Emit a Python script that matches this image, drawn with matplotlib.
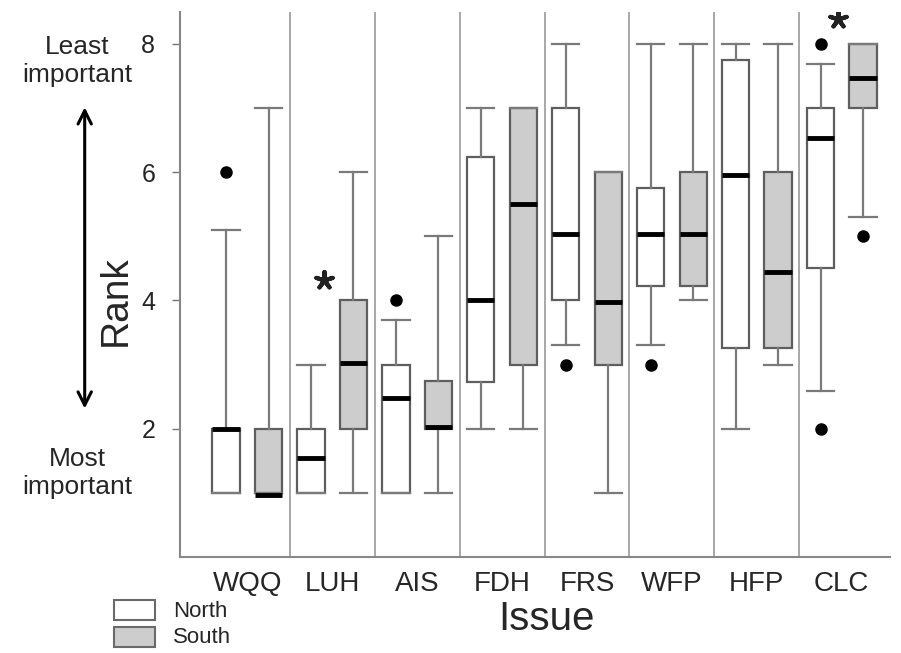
import numpy as np
import matplotlib.pyplot as plt
from matplotlib.patches import Rectangle

plt.rcParams['font.family'] = ['Liberation Sans', 'DejaVu Sans']

issues = ['WQQ', 'LUH', 'AIS', 'FDH', 'FRS', 'WFP', 'HFP', 'CLC']

# box stats per issue, North region
north_med = [2.0, 1.55, 2.48, 4.0, 5.03, 5.03, 5.96, 6.53]
north_q1 = [1.0, 1.0, 1.0, 2.73, 4.0, 4.23, 3.26, 4.51]
north_q3 = [2.0, 2.0, 3.0, 6.24, 7.0, 5.75, 7.75, 7.0]
north_lo = [1.0, 1.0, 1.0, 2.0, 3.3, 3.3, 2.0, 2.59]
north_hi = [5.1, 3.0, 3.69, 7.0, 8.0, 8.0, 8.0, 7.69]
north_fliers = [[6.0], [], [4.0], [], [3.0], [3.0], [], [8.0, 2.0]]

# South region
south_med = [0.97, 3.03, 2.02, 5.5, 3.98, 5.03, 4.45, 7.47]
south_q1 = [1.0, 2.0, 2.0, 3.0, 3.0, 4.23, 3.26, 7.0]
south_q3 = [2.0, 4.0, 2.74, 7.0, 6.0, 6.0, 6.0, 8.0]
south_lo = [1.0, 1.0, 1.0, 2.0, 1.0, 4.0, 3.0, 5.3]
south_hi = [7.0, 6.0, 5.0, 7.0, 6.0, 8.0, 8.0, 8.0]
south_fliers = [[], [], [], [], [], [], [], [5.0]]

# significance markers (issue position, rank)
sig_x = [1.9, 7.95]
sig_y = [4.32, 8.38]

fig = plt.figure(figsize=(9.01, 6.53), dpi=100)
ax = fig.add_axes([0.2, 0.147, 0.788, 0.835])

pos = np.arange(1, len(issues) + 1)
w = 0.32


def stats(med, q1, q3, lo, hi, fl):
    out = []
    for i in range(len(med)):
        out.append(dict(med=med[i], q1=q1[i], q3=q3[i], whislo=lo[i],
                        whishi=hi[i], fliers=fl[i]))
    return out


common = dict(widths=w, capwidths=w, patch_artist=True, showfliers=True,
              manage_ticks=False,
              whiskerprops=dict(color='#7a7a7a', lw=1.6),
              capprops=dict(color='#7a7a7a', lw=1.6),
              medianprops=dict(color='black', lw=3.5, solid_capstyle='butt'),
              flierprops=dict(marker='o', markerfacecolor='black',
                              markeredgecolor='black', markersize=8))

bn = ax.bxp(stats(north_med, north_q1, north_q3, north_lo, north_hi, north_fliers),
            positions=pos - 0.25, **common)
bs = ax.bxp(stats(south_med, south_q1, south_q3, south_lo, south_hi, south_fliers),
            positions=pos + 0.25, **common)
for b in bn['boxes']:
    b.set_facecolor('white')
    b.set_edgecolor('#5e5e5e')
    b.set_linewidth(1.6)
for b in bs['boxes']:
    b.set_facecolor('#cdcdcd')
    b.set_edgecolor('#5e5e5e')
    b.set_linewidth(1.6)

# group separators
for s in pos[:-1] + 0.5:
    ax.axvline(s, color='#9a9a9a', lw=1.2, zorder=0)

ax.scatter(sig_x, sig_y, marker=(5, 2, 0), s=150, color='#222222', lw=3)

ax.set_xlim(0.21, 8.57)
ax.set_ylim(0, 8.5)
ax.set_yticks([2, 4, 6, 8])
ax.set_xticks(pos)
ax.set_xticklabels(issues, fontsize=20, color='#262626')
ax.tick_params(axis='x', length=0, pad=10)
ax.tick_params(axis='y', length=6, width=1, color='#777777', labelsize=18,
               pad=12, labelcolor='#262626')
for sp in ['top', 'right']:
    ax.spines[sp].set_visible(False)
for sp in ['left', 'bottom']:
    ax.spines[sp].set_color('#888888')
    ax.spines[sp].set_linewidth(1.5)

fig.text(0.128, 0.54, 'Rank', rotation=90, fontsize=28, ha='center',
         va='center', color='#262626')
fig.text(0.607, 0.052, 'Issue', fontsize=29, ha='center', va='center',
         color='#262626')
fig.text(0.086, 0.907, 'Least\nimportant', fontsize=19, ha='center',
         va='center', linespacing=1.2, color='#262626')
fig.text(0.086, 0.276, 'Most\nimportant', fontsize=19, ha='center',
         va='center', linespacing=1.2, color='#262626')
fig.add_artist(plt.Annotation('', xy=(0.094, 0.84), xytext=(0.094, 0.37),
                              xycoords='figure fraction',
                              arrowprops=dict(arrowstyle='<->', lw=2.2,
                                              color='black',
                                              mutation_scale=24)))

# legend
fig.add_artist(Rectangle((0.126, 0.051), 0.046, 0.03, transform=fig.transFigure,
                         facecolor='white', edgecolor='#6a6a6a', lw=1.5))
fig.add_artist(Rectangle((0.126, 0.009), 0.046, 0.031, transform=fig.transFigure,
                         facecolor='#cdcdcd', edgecolor='#6a6a6a', lw=1.5))
fig.text(0.192, 0.064, 'North', fontsize=16, va='center', color='#262626')
fig.text(0.192, 0.024, 'South', fontsize=16, va='center', color='#262626')

fig.savefig('out.png', dpi=100)
